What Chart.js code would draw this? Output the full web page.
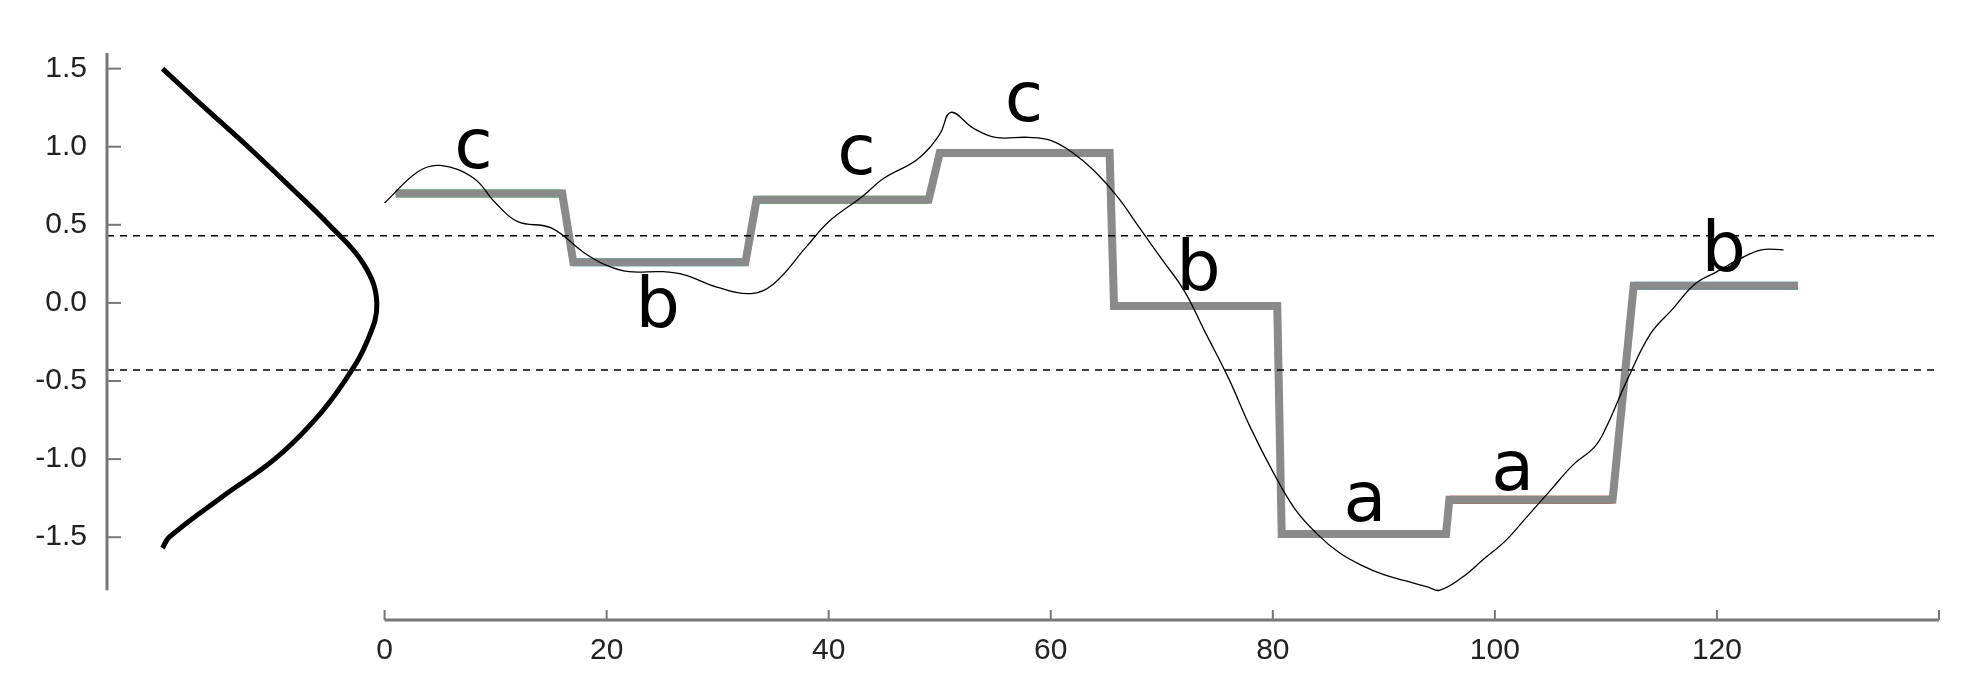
<!DOCTYPE html>
<html>
<head>
<meta charset="utf-8">
<script src="https://cdn.jsdelivr.net/npm/chart.js@4.4.1/dist/chart.umd.min.js"></script>
<style>
  html, body { margin: 0; padding: 0; background: #fff; }
  #wrap { width: 1984px; height: 697px; }
</style>
</head>
<body>
<div id="wrap"><canvas id="saxChart"></canvas></div>
<script>
// raw time series
const seriesX = [0, 3, 5, 8, 10, 12, 15, 18, 20, 22, 25, 27, 30, 33, 35, 38, 40, 43, 45, 48, 50, 51, 53, 55, 58, 60, 62, 64, 66, 68, 70, 72, 74, 76, 78, 80, 82, 84, 86, 88, 90, 92, 94, 95, 97, 99, 101, 103, 105, 107, 109, 110, 112, 114, 116, 118, 120, 122, 124, 126];
const seriesY = [0.64, 0.84, 0.88, 0.80, 0.64, 0.52, 0.48, 0.32, 0.24, 0.20, 0.20, 0.18, 0.10, 0.06, 0.12, 0.36, 0.52, 0.68, 0.80, 0.92, 1.08, 1.22, 1.12, 1.06, 1.06, 1.04, 0.96, 0.84, 0.68, 0.48, 0.28, 0.08, -0.20, -0.48, -0.80, -1.08, -1.32, -1.48, -1.60, -1.68, -1.74, -1.78, -1.82, -1.84, -1.76, -1.64, -1.52, -1.36, -1.20, -1.04, -0.92, -0.80, -0.48, -0.20, -0.04, 0.12, 0.20, 0.28, 0.34, 0.34];

// PAA / SAX segments
const segStart = [1, 17, 33.5, 50, 65.7, 80.8, 95.9, 112.5];
const segEnd = [16, 32.5, 49, 65.3, 80.4, 95.6, 110.6, 127.3];
const segValue = [0.70, 0.26, 0.66, 0.96, -0.02, -1.48, -1.26, 0.11];
const segSymbol = ["c", "b", "c", "c", "b", "a", "a", "b"];

// symbol labels
const labelX = [8, 24.6, 42.5, 57.6, 73.3, 88.3, 101.6, 120.6];
const labelY = [0.98, -0.04, 0.94, 1.28, 0.2, -1.28, -1.08, 0.32];

// gaussian drawn along the y axis
const gaussY = [1.5, 1.25, 1.0, 0.75, 0.5, 0.25, 0, -0.25, -0.5, -0.75, -1.0, -1.25, -1.5, -1.57];
const gaussX = [-20.0, -16.2, -12.3, -8.6, -5.0, -1.9, -0.7, -1.6, -3.6, -6.3, -9.9, -14.8, -19.4, -20.0];

const breakpoints = [0.43, -0.43];
const yTicks = [-1.5, -1.0, -0.5, 0.0, 0.5, 1.0, 1.5];
const xTicks = [0, 20, 40, 60, 80, 100, 120];
const xAxisEnd = 140;

const symbolColors = { a: "#bf1408", b: "#1ea0c0", c: "#25c145" };

const stepPoints = [];
segStart.forEach((s, i) => {
    stepPoints.push({ x: s, y: segValue[i] }, { x: segEnd[i], y: segValue[i] });
});

const datasets = [];
breakpoints.forEach(b => {
    datasets.push({
        data: [{ x: -25, y: b }, { x: xAxisEnd, y: b }],
        borderColor: "#000", borderWidth: 1.5, borderDash: [7, 6]
    });
});
datasets.push({
    data: gaussX.map((x, i) => ({ x: x, y: gaussY[i] })),
    borderColor: "#000", borderWidth: 5, tension: 0.4
});
datasets.push({
    data: seriesX.map((x, i) => ({ x: x, y: seriesY[i] })),
    borderColor: "#000", borderWidth: 1.3, tension: 0.4
});
datasets.push({
    data: stepPoints,
    borderColor: "#8a8a8a", borderWidth: 8
});
segSymbol.forEach((s, i) => {
    datasets.push({
        data: [{ x: segStart[i], y: segValue[i] }, { x: segEnd[i], y: segValue[i] }],
        borderColor: symbolColors[s], borderWidth: 8, borderCapStyle: "butt"
    });
});

const axesPlugin = {
    id: "axesPlugin",
    afterDatasetsDraw(chart) {
        const { ctx, scales: { x, y } } = chart;
        ctx.save();
        ctx.strokeStyle = "#777";
        ctx.fillStyle = "#222";
        ctx.font = "30px 'Liberation Sans', Arial, sans-serif";
        // x axis
        const yBase = y.bottom;
        ctx.lineWidth = 3;
        ctx.beginPath();
        ctx.moveTo(x.getPixelForValue(0), yBase);
        ctx.lineTo(x.getPixelForValue(xAxisEnd), yBase);
        ctx.stroke();
        ctx.textAlign = "center";
        ctx.textBaseline = "top";
        ctx.lineWidth = 2;
        xTicks.concat([xAxisEnd]).forEach(v => {
            const px = x.getPixelForValue(v);
            ctx.beginPath();
            ctx.moveTo(px, yBase);
            ctx.lineTo(px, yBase - 10);
            ctx.stroke();
            if (v !== xAxisEnd) ctx.fillText(String(v), px, yBase + 16);
        });
        // y axis
        const xBase = x.left;
        ctx.lineWidth = 3;
        ctx.beginPath();
        ctx.moveTo(xBase, y.getPixelForValue(1.6));
        ctx.lineTo(xBase, y.getPixelForValue(-1.84));
        ctx.stroke();
        ctx.textAlign = "right";
        ctx.textBaseline = "middle";
        ctx.lineWidth = 2;
        yTicks.forEach(v => {
            const py = y.getPixelForValue(v);
            ctx.beginPath();
            ctx.moveTo(xBase, py);
            ctx.lineTo(xBase + 14, py);
            ctx.stroke();
            ctx.fillText(v.toFixed(1), xBase - 20, py);
        });
        // SAX symbols
        ctx.fillStyle = "#000";
        ctx.font = "70px 'DejaVu Sans', sans-serif";
        ctx.textAlign = "center";
        segSymbol.forEach((s, i) => {
            ctx.fillText(s, x.getPixelForValue(labelX[i]), y.getPixelForValue(labelY[i]));
        });
        ctx.restore();
    }
};

new Chart(document.getElementById("saxChart"), {
    type: "scatter",
    data: { datasets: datasets },
    options: {
        responsive: true,
        maintainAspectRatio: false,
        animation: false,
        showLine: true,
        elements: { point: { radius: 0 } },
        layout: { padding: { top: 53, right: 45, left: 107, bottom: 77 } },
        plugins: { legend: { display: false }, tooltip: { enabled: false } },
        scales: {
            x: { type: "linear", min: -25, max: xAxisEnd, display: false },
            y: { type: "linear", min: -2.03, max: 1.6, display: false }
        }
    },
    plugins: [axesPlugin]
});
</script>
</body>
</html>
